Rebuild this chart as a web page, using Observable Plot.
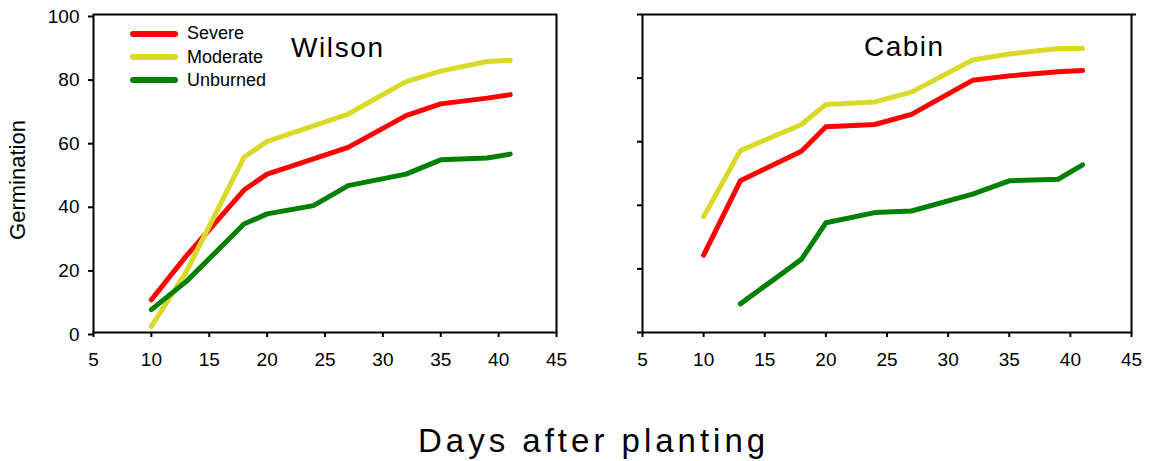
<!DOCTYPE html>
<html>
<head>
<meta charset="utf-8">
<script src="https://cdn.jsdelivr.net/npm/d3@7"></script>
<script src="https://cdn.jsdelivr.net/npm/@observablehq/plot@0.6"></script>
<style>
  html, body { margin: 0; padding: 0; background: #fff; }
  #wrap { position: relative; width: 1149px; height: 461px; font-family: "Liberation Sans", Arial, sans-serif; color: #000; overflow: hidden; }
  #wrap svg { position: absolute; top: 0; }
  .lab { position: absolute; line-height: 1; white-space: nowrap; }
  .sw { position: absolute; height: 6px; width: 48px; border-radius: 3px; }
</style>
</head>
<body>
<div id="wrap"></div>
<script>
// ---- data ----
const days = [10, 13, 18, 20, 24, 27, 32, 35, 39, 41];
const wilsonSevere   = [10.3, 24, 44.8, 49.8, 54.6, 58.2, 68.2, 71.9, 73.7, 74.8];
const wilsonModerate = [1.9, 19, 55.1, 60.1, 65.0, 68.7, 78.9, 82.2, 85.2, 85.6];
const wilsonUnburned = [7.2, 16, 34.1, 37.3, 39.9, 46.2, 49.8, 54.3, 54.9, 56.1];
const cabinSevere    = [24.3, 47.7, 57.0, 64.7, 65.4, 68.6, 79.3, 80.7, 82.0, 82.4];
const cabinModerate  = [36.4, 57.2, 65.4, 71.7, 72.5, 75.6, 85.7, 87.6, 89.3, 89.3];
const cabinUnburned  = [null, 9.0, 23.0, 34.5, 37.7, 38.2, 43.5, 47.7, 48.2, 52.7];
const treatments = ["Severe", "Moderate", "Unburned"];
const colors = ["#ff0000", "#d9d92a", "#008000"];
const xTicks = [5, 10, 15, 20, 25, 30, 35, 40, 45];
const yTicks = [0, 20, 40, 60, 80, 100];
const xLabel = "Days after planting";
const yLabel = "Germination";

function rows(series) {
  const out = [];
  // draw order: Severe, Moderate, Unburned (green on top)
  series.forEach((vals, k) => {
    days.forEach((d, i) => {
      if (vals[i] != null) out.push({treatment: treatments[k], day: d, value: vals[i]});
    });
  });
  return out;
}

const wilson = rows([wilsonSevere, wilsonModerate, wilsonUnburned]);
const cabin = rows([cabinSevere, cabinModerate, cabinUnburned]);

function panel(data, opts) {
  const marks = [
    ...treatments.map((t, k) => Plot.line(data.filter(d => d.treatment === t), {
      x: "day", y: "value", stroke: colors[k], strokeWidth: 5,
      strokeLinecap: "round", strokeLinejoin: "round"
    })),
    Plot.frame({stroke: "#000", strokeWidth: 2}),
    Plot.axisX({ticks: xTicks, tickSize: 5, tickPadding: 15, strokeWidth: 2, label: null, fontSize: 19}),
    opts.labels
      ? Plot.axisY({ticks: yTicks, tickSize: 5, tickPadding: 9, strokeWidth: 2, label: null, fontSize: 19, dy: 2})
      : Plot.axisY({ticks: yTicks, tickSize: 5, strokeWidth: 2, label: null, tickFormat: () => ""})
  ];
  if (opts.rightTick) marks.push(Plot.axisY({anchor: "right", ticks: [100], tickSize: 4, strokeWidth: 2, label: null, tickFormat: () => ""}));
  const svg = Plot.plot({
    width: opts.width, height: 375,
    marginLeft: opts.ml, marginRight: opts.mr, marginTop: 14, marginBottom: 43,
    x: {domain: [5, 45]},
    y: {domain: [0, 100]},
    style: {fontFamily: "'Liberation Sans', Arial, sans-serif", fontSize: "19px", color: "#000", background: "transparent", overflow: "visible"},
    marks
  });
  svg.style.left = opts.left + "px";
  return svg;
}

const wrap = document.getElementById("wrap");
wrap.appendChild(panel(wilson, {width: 575, ml: 93, mr: 19, left: 0, labels: true}));
wrap.appendChild(panel(cabin, {width: 574, ml: 67, mr: 18, left: 575, labels: false, rightTick: true}));

function addLabel(text, css) {
  const d = document.createElement("div");
  d.className = "lab";
  d.textContent = text;
  Object.assign(d.style, css);
  wrap.appendChild(d);
  return d;
}

// panel titles
addLabel("Wilson", {left: "291px", top: "34px", fontSize: "28px", letterSpacing: "1.6px"});
addLabel("Cabin", {left: "864px", top: "33px", fontSize: "28px", letterSpacing: "1.5px"});

// legend
treatments.forEach((t, k) => {
  const cy = [33.5, 57, 80][k];
  const s = document.createElement("div");
  s.className = "sw";
  s.style.left = "130px";
  s.style.top = (cy - 3) + "px";
  s.style.background = colors[k];
  wrap.appendChild(s);
  addLabel(t, {left: "187px", top: (cy - 9.5) + "px", fontSize: "18px"});
});

// axis titles
addLabel(xLabel, {left: "418px", top: "424px", fontSize: "33px", letterSpacing: "4px"});
const yl = addLabel(yLabel, {left: "18px", top: "180px", fontSize: "22px"});
yl.style.transformOrigin = "0 0";
yl.style.transform = "rotate(-90deg) translate(-50%, -50%)";
</script>
</body>
</html>
